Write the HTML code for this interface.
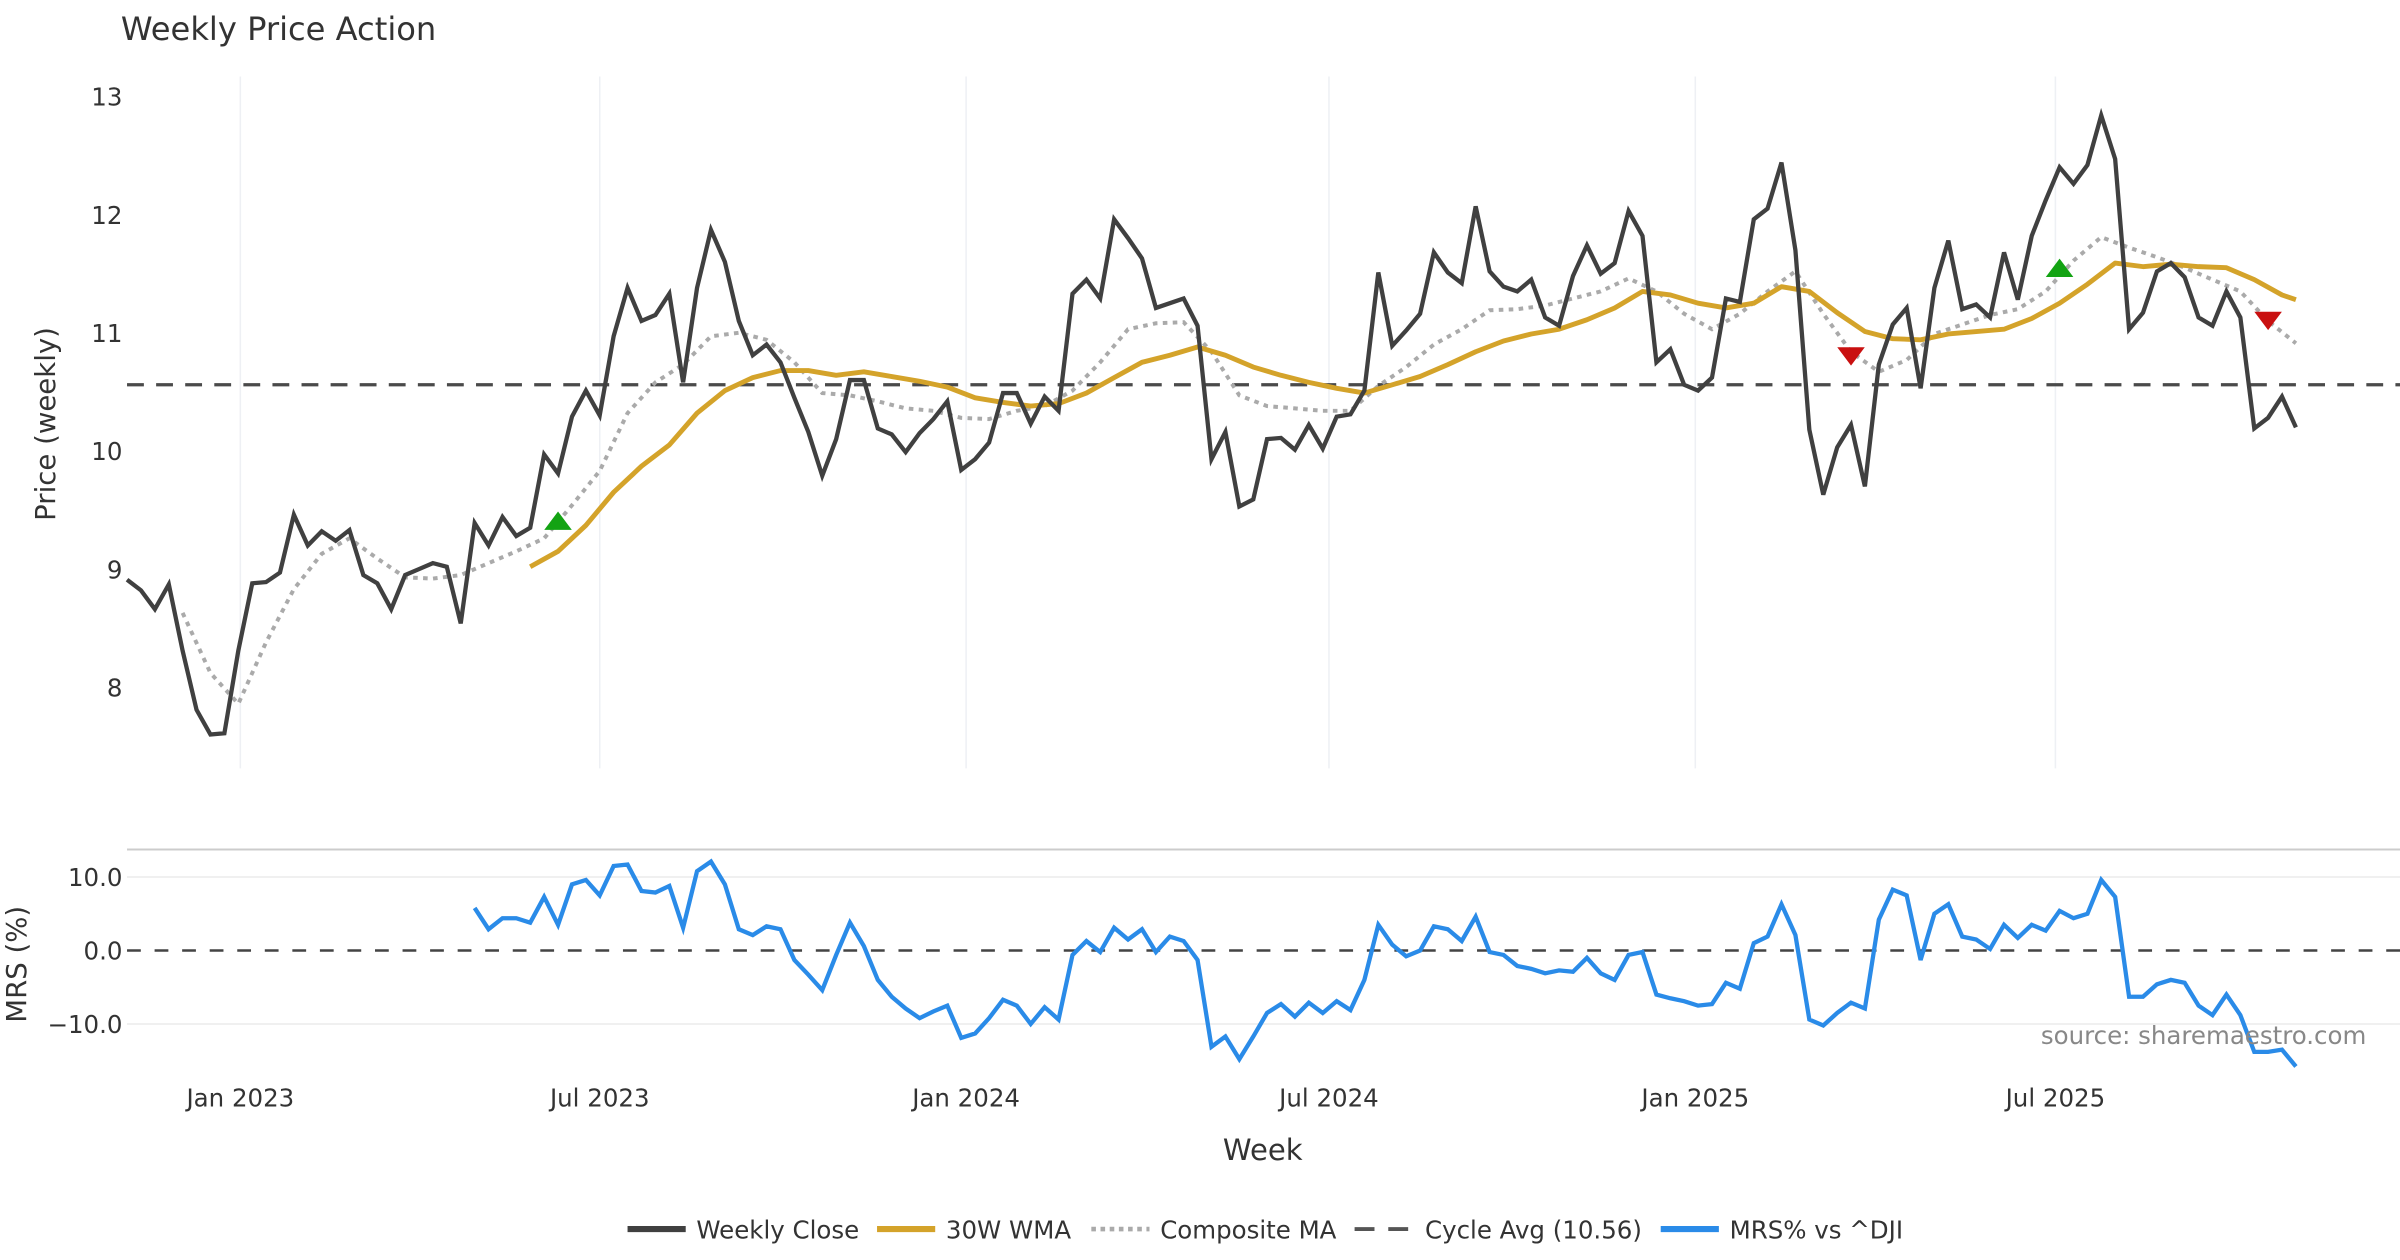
<!DOCTYPE html>
<html><head><meta charset="utf-8"><style>
html,body{margin:0;padding:0;background:#fff;}
svg{display:block;font-family:"DejaVu Sans","Liberation Sans",sans-serif;}
</style></head><body>
<svg id="chart" width="2400" height="1260" viewBox="0 0 1568 823.2" xmlns="http://www.w3.org/2000/svg">
<rect width="1568" height="823.2" fill="#fff"/>
<text x="79" y="26" font-size="21" fill="#333">Weekly Price Action</text>
<g id="grid"></g>
<g id="series"></g>
<g id="axes"></g>
<text transform="translate(36,277) rotate(-90)" text-anchor="middle" font-size="18" fill="#333">Price (weekly)</text>
<text transform="translate(17,630) rotate(-90)" text-anchor="middle" font-size="18" fill="#333">MRS (%)</text>
<text x="825" y="758" text-anchor="middle" font-size="19" fill="#333">Week</text>
<text x="1546" y="682" text-anchor="end" font-size="16" fill="#888">source: sharemaestro.com</text>
<g font-size="16" fill="#333">
<line x1="410" y1="803" x2="448" y2="803" stroke="#404040" stroke-width="4"/><text x="455" y="809">Weekly Close</text>
<line x1="573" y1="803" x2="611" y2="803" stroke="#D4A32A" stroke-width="4"/><text x="618" y="809">30W WMA</text>
<line x1="713" y1="803" x2="751" y2="803" stroke="#aaa" stroke-width="3" stroke-dasharray="3,3"/><text x="758" y="809">Composite MA</text>
<line x1="885" y1="803" x2="923" y2="803" stroke="#555" stroke-width="2.5" stroke-dasharray="13,9"/><text x="931" y="809">Cycle Avg (10.56)</text>
<line x1="1085" y1="803" x2="1123" y2="803" stroke="#2A8BE8" stroke-width="4"/><text x="1130" y="809">MRS% vs ^DJI</text>
</g>
</svg>
<script>
const closePrices=[8.91,8.82,8.66,8.87,8.31,7.81,7.60,7.61,8.31,8.88,8.89,8.97,9.46,9.20,9.32,9.24,9.33,8.95,8.88,8.66,8.95,9.00,9.05,9.02,8.54,9.39,9.20,9.44,9.28,9.35,9.97,9.81,10.29,10.51,10.30,10.97,11.38,11.10,11.15,11.33,10.58,11.38,11.87,11.60,11.10,10.81,10.90,10.75,10.45,10.16,9.79,10.10,10.60,10.60,10.19,10.14,9.99,10.15,10.27,10.42,9.84,9.93,10.07,10.49,10.49,10.23,10.46,10.34,11.33,11.45,11.29,11.96,11.80,11.63,11.21,11.25,11.29,11.06,9.93,10.16,9.53,9.59,10.10,10.11,10.01,10.22,10.02,10.29,10.31,10.51,11.51,10.89,11.02,11.16,11.68,11.51,11.42,12.07,11.52,11.39,11.35,11.45,11.13,11.06,11.48,11.74,11.50,11.59,12.03,11.82,10.75,10.86,10.56,10.51,10.62,11.29,11.26,11.96,12.05,12.44,11.70,10.18,9.63,10.03,10.22,9.70,10.73,11.07,11.21,10.53,11.38,11.78,11.20,11.24,11.13,11.68,11.28,11.82,12.12,12.40,12.26,12.42,12.84,12.47,11.03,11.17,11.52,11.59,11.47,11.13,11.06,11.35,11.13,10.19,10.28,10.46,10.20];
const wmaWeeks=[29,31,33,35,37,39,41,43,45,47,49,51,53,55,57,59,61,63,65,67,69,71,73,75,77,79,81,83,85,87,89,91,93,95,97,99,101,103,105,107,109,111,113,115,117,119,121,123,125,127,129,131,133,135,137,139,141,143,145,147,149,151,153,155,156];
const wmaValues=[9.02,9.15,9.37,9.65,9.87,10.05,10.32,10.51,10.62,10.68,10.68,10.64,10.67,10.63,10.59,10.54,10.45,10.41,10.38,10.40,10.49,10.62,10.75,10.81,10.88,10.81,10.71,10.64,10.58,10.53,10.49,10.56,10.63,10.73,10.84,10.93,10.99,11.03,11.11,11.21,11.35,11.32,11.25,11.21,11.25,11.39,11.35,11.17,11.01,10.95,10.94,10.99,11.01,11.03,11.12,11.25,11.41,11.59,11.56,11.58,11.56,11.55,11.45,11.32,11.28];
const compWeeks=[4,6,8,10,12,14,16,18,20,22,24,26,28,30,32,34,36,38,40,42,44,46,48,50,52,54,56,58,60,62,64,66,68,70,72,74,76,78,80,82,84,86,88,90,92,94,96,98,100,102,104,106,108,110,112,114,116,118,120,122,124,126,128,130,132,134,136,138,140,142,144,146,148,150,152,154,156];
const compValues=[8.63,8.12,7.86,8.38,8.83,9.13,9.26,9.09,8.93,8.92,8.95,9.05,9.15,9.26,9.54,9.83,10.32,10.58,10.73,10.97,11.00,10.94,10.75,10.49,10.47,10.42,10.36,10.34,10.28,10.27,10.34,10.38,10.51,10.75,11.03,11.08,11.09,10.84,10.47,10.38,10.36,10.34,10.34,10.55,10.71,10.90,11.03,11.19,11.20,11.23,11.29,11.35,11.46,11.35,11.16,11.03,11.16,11.35,11.52,11.16,10.84,10.67,10.77,10.99,11.07,11.15,11.20,11.35,11.61,11.81,11.72,11.64,11.55,11.45,11.35,11.10,10.91];
const mrsValues=[5.8,2.9,4.4,4.4,3.8,7.3,3.5,9.0,9.6,7.5,11.5,11.7,8.1,7.9,8.8,3.1,10.8,12.1,9.0,2.9,2.1,3.3,2.9,-1.3,-3.3,-5.4,-0.6,3.8,0.6,-4.0,-6.3,-7.9,-9.2,-8.3,-7.5,-11.9,-11.3,-9.2,-6.7,-7.5,-10.0,-7.7,-9.4,-0.6,1.3,-0.2,3.1,1.5,2.9,-0.2,1.9,1.3,-1.3,-13.1,-11.7,-14.8,-11.7,-8.5,-7.3,-9.0,-7.1,-8.5,-6.9,-8.1,-4.0,3.5,0.8,-0.8,0,3.3,2.9,1.3,4.6,-0.2,-0.6,-2.1,-2.5,-3.1,-2.7,-2.9,-1.0,-3.1,-4.0,-0.6,-0.2,-6.0,-6.5,-6.9,-7.5,-7.3,-4.4,-5.2,1.0,1.9,6.3,2.1,-9.4,-10.2,-8.5,-7.1,-7.9,4.2,8.3,7.5,-1.3,5.0,6.3,1.9,1.5,0.2,3.5,1.7,3.5,2.7,5.4,4.4,5.0,9.6,7.3,-6.3,-6.3,-4.6,-4.0,-4.4,-7.5,-8.8,-6.0,-8.8,-13.8,-13.8,-13.5,-15.8];
const cycleAvg=10.56;
const priceTicks=[8,9,10,11,12,13];
const mrsTicks=[-10,0,10];
const mrsTickLabels=["\u221210.0","0.0","10.0"];
const xTickLabels=["Jan 2023","Jul 2023","Jan 2024","Jul 2024","Jan 2025","Jul 2025"];
const xTickWeeks=[8.15,34.0,60.35,86.45,112.8,138.7];
const buyWeeks=[31,139];
const buyPrices=[9.41,11.55];
const sellWeeks=[124,154];
const sellPrices=[10.80,11.10];

const NS="http://www.w3.org/2000/svg";
const nW=closePrices.length;
const X0=83,X1=1500;
function x(w){return X0+w*(X1-X0)/(nW-1);}
function yP(p){return 63+(13-p)*77.2;}
function yM(v){return 621-v*4.8;}
function mk(tag,attrs,parent){const e=document.createElementNS(NS,tag);for(const k in attrs)e.setAttribute(k,attrs[k]);parent.appendChild(e);return e;}
const grid=document.getElementById('grid'),ser=document.getElementById('series'),axes=document.getElementById('axes');

xTickWeeks.forEach((w,i)=>{
  const g=mk('line',{x1:x(w),x2:x(w),y1:50,y2:502,stroke:'#eef0f4','stroke-width':1},grid);
  
  
  const t=mk('text',{x:x(w),y:723,'text-anchor':'middle','font-size':16,fill:'#333'},axes);
  t.textContent=xTickLabels[i];
  
  
});
priceTicks.forEach(p=>{
  const t=mk('text',{x:80,y:yP(p)+6,'text-anchor':'end','font-size':16,fill:'#333'},axes);
  t.textContent=String(p);
  
  
});
const sep=mk('line',{x1:83,x2:1568,y1:555,y2:555,stroke:'#ccc','stroke-width':1.3},grid);


mrsTicks.forEach((v,i)=>{
  if(v!==0){const g=mk('line',{x1:83,x2:1568,y1:yM(v),y2:yM(v),stroke:'#f0f0f0','stroke-width':1.3},grid);
  
  }
  const t=mk('text',{x:80,y:yM(v)+6,'text-anchor':'end','font-size':16,fill:'#333'},axes);
  t.textContent=mrsTickLabels[i];
  
  
});
const zl=mk('line',{x1:83,x2:1568,y1:yM(0),y2:yM(0),stroke:'#444','stroke-width':1.6,'stroke-dasharray':'9,9'},ser);


const ca=mk('line',{x1:83,x2:1568,y1:yP(cycleAvg),y2:yP(cycleAvg),stroke:'#4a4a4a','stroke-width':2.2,'stroke-dasharray':'11,8'},ser);



function pts(ws,vs,yf){return vs.map((v,i)=>x(ws[i]).toFixed(1)+','+yf(v).toFixed(1)).join(' ');}
const comp=mk('polyline',{points:pts(compWeeks,compValues,yP),fill:'none',stroke:'#aaa','stroke-width':2.6,'stroke-dasharray':'3,3.5'},ser);


const wma=mk('polyline',{points:pts(wmaWeeks,wmaValues,yP),fill:'none',stroke:'#D4A32A','stroke-width':3.2,'stroke-linejoin':'round'},ser);


const cl=mk('polyline',{points:pts(closePrices.map((_,i)=>i),closePrices,yP),fill:'none',stroke:'#404040','stroke-width':2.8,'stroke-linejoin':'miter'},ser);


const off=nW-mrsValues.length;
const mrs=mk('polyline',{points:pts(mrsValues.map((_,i)=>i+off),mrsValues,yM),fill:'none',stroke:'#2A8BE8','stroke-width':2.8},ser);


buyWeeks.forEach((w,i)=>{
  const cx=x(w),cy=yP(buyPrices[i]);
  const t=mk('polygon',{points:`${cx-9},${cy+6} ${cx+9},${cy+6} ${cx},${cy-6}`,fill:'#13A313'},ser);
  
  
});
sellWeeks.forEach((w,i)=>{
  const cx=x(w),cy=yP(sellPrices[i]);
  const t=mk('polygon',{points:`${cx-9},${cy-6} ${cx+9},${cy-6} ${cx},${cy+6}`,fill:'#C91010'},ser);
  
  
});
</script>
</body></html>
